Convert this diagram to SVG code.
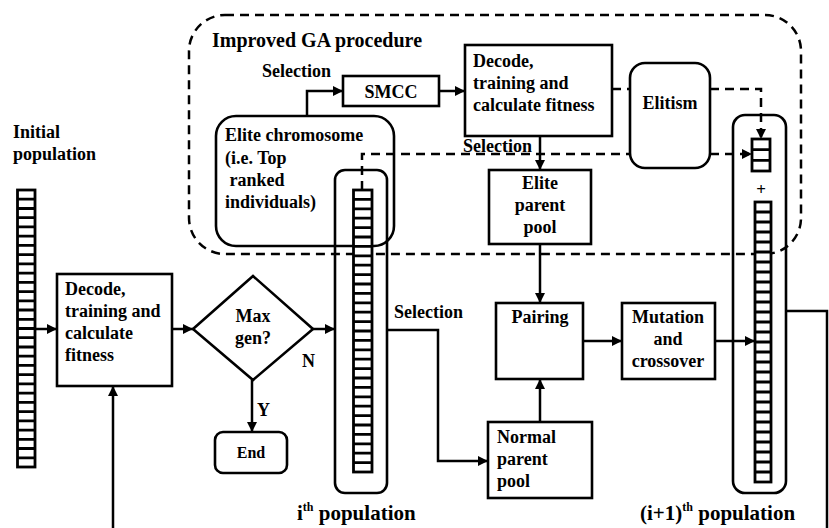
<svg xmlns="http://www.w3.org/2000/svg" width="829" height="528" viewBox="0 0 829 528">
  <style>
    text { font-family: "Liberation Serif", Tinos, "DejaVu Serif", serif; font-weight: bold; font-size: 18px; fill: #000; }
    .big { font-size: 21px; }
    .title { font-size: 20px; }
    .mid { text-anchor: middle; }
    .box { fill: #fff; stroke: #000; stroke-width: 2.6; }
    .open { fill: none; stroke: #000; stroke-width: 2.6; }
    .line { fill: none; stroke: #000; stroke-width: 2.5; }
    .dash { fill: none; stroke: #000; stroke-width: 2.5; stroke-dasharray: 9 6; }
    .cells { fill: #fff; stroke: #000; stroke-width: 2.8; }
    .div { fill: none; stroke: #000; stroke-width: 2.8; }
  </style>
  <defs>
    <marker id="arr" viewBox="0 0 10 10" refX="10" refY="5" markerWidth="11" markerHeight="10" markerUnits="userSpaceOnUse" orient="auto">
      <path d="M0,0 L10,5 L0,10 z" fill="#000"/>
    </marker>
  </defs>

  <rect width="829" height="528" fill="#fff"/>

  <!-- improved GA procedure region -->
  <g id="ga-region">
    <rect x="189" y="15" width="612" height="239" rx="36" ry="36" class="dash"/>
    <text x="212" y="47" class="title">Improved GA procedure</text>
  </g>

  <!-- initial population -->
  <g id="initial-population">
    <text x="13" y="138">Initial</text>
    <text x="13" y="160">population</text>
    <rect x="17.5" y="190" width="17.5" height="277" class="cells"/>
    <path class="div" d="M17.5,199.2H35M17.5,208.5H35M17.5,217.7H35M17.5,226.9H35M17.5,236.2H35M17.5,245.4H35M17.5,254.6H35M17.5,263.9H35M17.5,273.1H35M17.5,282.3H35M17.5,291.6H35M17.5,300.8H35M17.5,310H35M17.5,319.3H35M17.5,328.5H35M17.5,337.7H35M17.5,347H35M17.5,356.2H35M17.5,365.4H35M17.5,374.7H35M17.5,383.9H35M17.5,393.1H35M17.5,402.4H35M17.5,411.6H35M17.5,420.8H35M17.5,430.1H35M17.5,439.3H35M17.5,448.5H35M17.5,457.8H35"/>
  </g>

  <g id="decode-main">
    <rect x="57" y="274" width="115" height="112" class="box"/>
    <text x="65" y="295">Decode,</text>
    <text x="65" y="317">training and</text>
    <text x="65" y="339">calculate</text>
    <text x="65" y="361">fitness</text>
  </g>

  <g id="max-gen">
    <polygon points="253,276 313,329 253,380 193,329" class="box"/>
    <text x="253" y="322" class="mid">Max</text>
    <text x="253" y="344" class="mid">gen?</text>
  </g>

  <g id="end">
    <rect x="215" y="432" width="72" height="41" rx="8" ry="8" class="box"/>
    <text x="251" y="458" class="mid" style="font-size:16px">End</text>
  </g>

  <!-- elite chromosome (drawn before the i-th population so they overlap) -->
  <g id="elite-chromosome">
    <rect x="216" y="116" width="178" height="130" rx="20" ry="20" class="open"/>
    <text x="225" y="141">Elite chromosome</text>
    <text x="225" y="164">(i.e. Top</text>
    <text x="225" y="186" xml:space="preserve"> ranked</text>
    <text x="225" y="208">individuals)</text>
  </g>

  <g id="ith-population">
    <rect x="335" y="170" width="52" height="323" rx="10" ry="10" class="open"/>
    <rect x="353.5" y="190" width="18.5" height="282" class="cells"/>
    <path class="div" d="M353.5,199.4H372M353.5,208.8H372M353.5,218.2H372M353.5,227.6H372M353.5,237H372M353.5,246.4H372M353.5,255.8H372M353.5,265.2H372M353.5,274.6H372M353.5,284H372M353.5,293.4H372M353.5,302.8H372M353.5,312.2H372M353.5,321.6H372M353.5,331H372M353.5,340.4H372M353.5,349.8H372M353.5,359.2H372M353.5,368.6H372M353.5,378H372M353.5,387.4H372M353.5,396.8H372M353.5,406.2H372M353.5,415.6H372M353.5,425H372M353.5,434.4H372M353.5,443.8H372M353.5,453.2H372M353.5,462.6H372"/>
    <text x="297" y="520" class="big">i<tspan dy="-9" style="font-size:12px">th</tspan><tspan dy="9" xml:space="preserve"> population</tspan></text>
  </g>

  <g id="smcc">
    <rect x="343" y="76" width="96" height="30" class="box"/>
    <text x="391" y="98" class="mid">SMCC</text>
  </g>

  <g id="decode-elite">
    <rect x="465" y="45" width="147" height="91" class="box"/>
    <text x="473" y="67">Decode,</text>
    <text x="473" y="89">training and</text>
    <text x="473" y="111">calculate fitness</text>
  </g>

  <g id="elitism">
    <rect x="630" y="63" width="80" height="105" rx="15" ry="15" class="box"/>
    <text x="670" y="109" class="mid">Elitism</text>
  </g>

  <g id="elite-parent-pool">
    <rect x="489" y="170" width="102" height="74" class="box"/>
    <text x="540" y="189" class="mid">Elite</text>
    <text x="540" y="211" class="mid">parent</text>
    <text x="540" y="233" class="mid">pool</text>
  </g>

  <g id="pairing">
    <rect x="496" y="303" width="87" height="76" class="box"/>
    <text x="540" y="323" class="mid">Pairing</text>
  </g>

  <g id="normal-parent-pool">
    <rect x="488" y="422" width="104" height="76" class="box"/>
    <text x="497" y="443">Normal</text>
    <text x="497" y="465">parent</text>
    <text x="497" y="487">pool</text>
  </g>

  <g id="mutation-crossover">
    <rect x="622" y="303" width="93" height="76" class="box"/>
    <text x="668" y="323" class="mid">Mutation</text>
    <text x="668" y="345" class="mid">and</text>
    <text x="668" y="367" class="mid">crossover</text>
  </g>

  <g id="next-population">
    <rect x="733" y="115" width="53" height="378" rx="12" ry="12" class="open"/>
    <rect x="752" y="139" width="18" height="32" class="cells"/>
    <path class="div" d="M752,149.7H770M752,160.3H770"/>
    <text x="761" y="195" class="mid" style="font-size:17px">+</text>
    <rect x="755" y="202" width="16" height="280" class="cells"/>
    <path class="div" d="M755,212H771M755,222H771M755,232H771M755,242H771M755,252H771M755,262H771M755,272H771M755,282H771M755,292H771M755,302H771M755,312H771M755,322H771M755,332H771M755,342H771M755,352H771M755,362H771M755,372H771M755,382H771M755,392H771M755,402H771M755,412H771M755,422H771M755,432H771M755,442H771M755,452H771M755,462H771M755,472H771"/>
    <text x="640" y="520" class="big">(i+1)<tspan dy="-9" style="font-size:12px">th</tspan><tspan dy="9" xml:space="preserve"> population</tspan></text>
  </g>

  <!-- connectors -->
  <g id="connectors">
    <path class="line" d="M35,329H57" marker-end="url(#arr)"/>
    <path class="line" d="M172,329H193" marker-end="url(#arr)"/>
    <path class="line" d="M313,329H335" marker-end="url(#arr)"/>
    <path class="line" d="M252,380V432" marker-end="url(#arr)"/>
    <path class="line" d="M786,311H827V540H113V386" marker-end="url(#arr)"/>
    <path class="line" d="M387,330H438V461H488" marker-end="url(#arr)"/>
    <path class="line" d="M540,422V379" marker-end="url(#arr)"/>
    <path class="line" d="M540,244V303" marker-end="url(#arr)"/>
    <path class="line" d="M583,341H622" marker-end="url(#arr)"/>
    <path class="line" d="M715,341H755" marker-end="url(#arr)"/>
    <path class="line" d="M307,116V91H343" marker-end="url(#arr)"/>
    <path class="line" d="M439,91H465" marker-end="url(#arr)"/>
    <path class="line" d="M540,136V170" marker-end="url(#arr)"/>
    <path class="dash" d="M612,89H630"/>
    <path class="dash" d="M710,89H761V139" marker-end="url(#arr)"/>
    <path class="dash" d="M362,190V154H630"/>
    <path class="dash" d="M710,154H752" marker-end="url(#arr)"/>
    <text x="262" y="77">Selection</text>
    <text x="463" y="152">Selection</text>
    <text x="394" y="318">Selection</text>
    <text x="302" y="367">N</text>
    <text x="257" y="416">Y</text>
  </g>
</svg>
